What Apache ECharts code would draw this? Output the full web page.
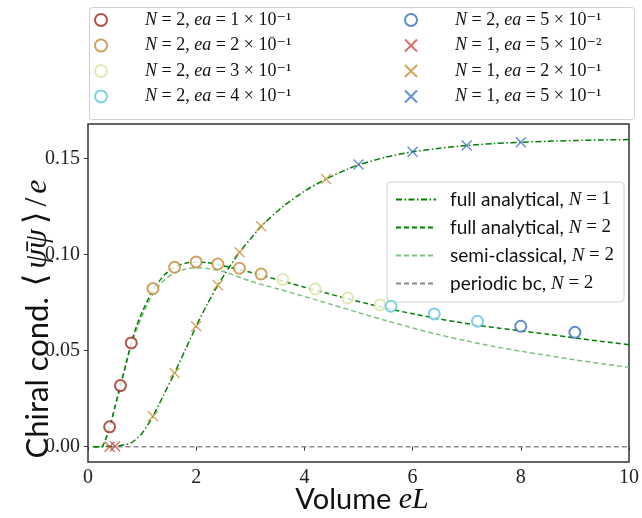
<!DOCTYPE html>
<html>
<head>
<meta charset="utf-8">
<script src="https://cdn.jsdelivr.net/npm/echarts@6.0.0/dist/echarts.min.js"></script>
<style>html,body{margin:0;padding:0;background:#fff}#c{width:642px;height:518px}</style>
</head>
<body>
<div id="c"></div>
<script>
// ---- axis ticks ----
const xTicks = [0, 2, 4, 6, 8, 10];
const yTicks = [0, 0.05, 0.10, 0.15];

// ---- full analytical N=1 ----
const fa1X = [0.1,0.3,0.5,0.6,0.8,1.0,1.2,1.4,1.6,1.8,2.0,2.2,2.4,2.6,2.8,3.0,3.2,3.6,4.0,4.4,4.8,5.0,5.5,6.0,6.5,7.0,7.5,8.0,8.5,9.0,9.5,10];
const fa1Y = [0,0,0.0002,0.0006,0.002,0.007,0.0158,0.027,0.0384,0.0505,0.0627,0.074,0.084,0.093,0.1012,0.108,0.1147,0.1250,0.1330,0.1394,0.1445,0.1467,0.1507,0.1535,0.1554,0.1568,0.1578,0.1585,0.1590,0.1594,0.1597,0.1599];
// ---- full analytical N=2 ----
const fa2X = [0.1,0.25,0.3,0.4,0.5,0.6,0.7,0.8,0.9,1.0,1.2,1.4,1.6,1.8,2.0,2.2,2.4,2.6,2.8,3.0,3.2,3.6,4.0,4.4,4.8,5.2,5.6,6.0,6.4,6.8,7.2,7.6,8.0,8.5,9.0,9.5,10];
const fa2Y = [0,0,0.002,0.010,0.021,0.032,0.043,0.054,0.063,0.070,0.0815,0.089,0.0935,0.0955,0.0962,0.0958,0.0948,0.0935,0.0922,0.0908,0.0893,0.0862,0.0830,0.0800,0.0770,0.0742,0.0715,0.0692,0.0670,0.0650,0.0632,0.0617,0.0603,0.0585,0.0566,0.0548,0.0531];
// ---- semi-classical N=2 ----
const scX = [0.1,0.25,0.3,0.4,0.5,0.6,0.8,1.0,1.2,1.4,1.6,1.8,2.0,2.2,2.5,3.0,3.5,4.0,4.5,5.0,5.5,6.0,6.5,7.0,7.5,8.0,8.5,9.0,9.5,10];
const scY = [0,0,0.002,0.0095,0.0205,0.031,0.053,0.068,0.0795,0.0865,0.0905,0.0925,0.0932,0.0928,0.0912,0.0862,0.0822,0.0782,0.0740,0.0698,0.0657,0.0618,0.0582,0.0550,0.0522,0.0497,0.0474,0.0452,0.0432,0.0413];
// ---- periodic bc N=2 ----
const pbcX = [0.4, 10];
const pbcY = [0, 0];

// ---- markers ----
const c1X = [0.4, 0.6, 0.8];             const c1Y = [0.0103, 0.0318, 0.054];
const c2X = [1.2, 1.6, 2.0, 2.4, 2.8, 3.2]; const c2Y = [0.0823, 0.0934, 0.0962, 0.0951, 0.0929, 0.0899];
const c3X = [3.6, 4.2, 4.8, 5.4];        const c3Y = [0.0870, 0.0821, 0.0774, 0.0738];
const c4X = [5.6, 6.4, 7.2];             const c4Y = [0.0731, 0.0691, 0.0653];
const c5X = [8, 9];                      const c5Y = [0.0627, 0.0595];
const x1X = [0.4, 0.5];                  const x1Y = [0, 0.0002];
const x2X = [1.2, 1.6, 2.0, 2.4, 2.8, 3.2, 4.4]; const x2Y = [0.0158, 0.0384, 0.0627, 0.084, 0.1012, 0.1147, 0.1394];
const x3X = [5, 6, 7, 8];                const x3Y = [0.1469, 0.1535, 0.1568, 0.1585];

// ---- legend labels ----
const markerNames = ['c1','c2','c3','c4','c5','x1','x2','x3'];
const markerN   = ['2','2','2','2','2','1','1','1'];
const markerEa  = ['1 × 10⁻¹','2 × 10⁻¹','3 × 10⁻¹','4 × 10⁻¹','5 × 10⁻¹','5 × 10⁻²','2 × 10⁻¹','5 × 10⁻¹'];
const lineNames = ['fa1','fa2','sc','pbc'];
const lineText  = ['full analytical, ','full analytical, ','semi-classical, ','periodic bc, '];
const lineN     = ['1','2','2','2'];

const zip = (a, b) => a.map((v, i) => [v, b[i]]);
const SERIF = '"Liberation Serif", "DejaVu Serif", serif';
const SANS = 'Lato, "Open Sans", sans-serif';
const XPATH = 'path://M0,0L10,10M0,10L10,0';

const markerColors = ['#a3291e','#c38b3c','#d9e4a6','#62c6e0','#3b6fc0','#d04a4a','#c99040','#3a74c4'];
const markerData = [[c1X,c1Y],[c2X,c2Y],[c3X,c3Y],[c4X,c4Y],[c5X,c5Y],[x1X,x1Y],[x2X,x2Y],[x3X,x3Y]];

const series = [];
const lineStyles = [
  {color:'#008000', width:1.5, type:[6,2.5,1.5,2.5]},
  {color:'#008000', width:1.5, type:[5,3]},
  {color:'#80c080', width:1.5, type:[5,3]},
  {color:'#8c8c8c', width:1.5, type:[5,3]}
];
const lineData = [[fa1X,fa1Y],[fa2X,fa2Y],[scX,scY],[pbcX,pbcY]];
const lineZ = [4,4,3,2];
lineNames.forEach((n, i) => {
  series.push({
    name: n, type: 'line', symbol: 'none', smooth: 0.25,
    data: zip(lineData[i][0], lineData[i][1]),
    lineStyle: lineStyles[i], itemStyle: {color: lineStyles[i].color},
    z: lineZ[i], silent: true, animation: false
  });
});
markerNames.forEach((n, i) => {
  const isX = n[0] === 'x';
  series.push({
    name: n, type: 'scatter',
    symbol: isX ? XPATH : 'emptyCircle',
    symbolSize: isX ? 10 : 11,
    data: zip(markerData[i][0], markerData[i][1]),
    itemStyle: {color: markerColors[i], borderColor: markerColors[i], borderWidth: isX ? 1.4 : 1},
    z: 6, silent: true, animation: false
  });
});

const mRich = {
  i: {fontFamily: SERIF, fontStyle: 'italic', fontSize: 18, lineHeight: 20, color: '#111'},
  n: {fontFamily: SERIF, fontSize: 18, lineHeight: 20, color: '#111'},
  p: {fontSize: 18, lineHeight: 20, width: 33}
};
const markerFmt = name => {
  const k = markerNames.indexOf(name);
  return '{p|}{i|N}{n| = ' + markerN[k] + ', }{i|ea}{n| = ' + markerEa[k] + '}';
};
const lRich = {
  t: {fontFamily: SANS, fontSize: 19, lineHeight: 20, color: '#111'},
  i: {fontFamily: SERIF, fontStyle: 'italic', fontSize: 19, lineHeight: 20, color: '#111'},
  n: {fontFamily: SERIF, fontSize: 19, lineHeight: 20, color: '#111'},
  p: {fontSize: 19, lineHeight: 20, width: 9}
};
const lineFmt = name => {
  const k = lineNames.indexOf(name);
  return '{p|}{t|' + lineText[k] + '}{i|N}{n| = ' + lineN[k] + '}';
};

const chart = echarts.init(document.getElementById('c'), null, {renderer: 'canvas'});
chart.setOption({
  animation: false,
  backgroundColor: '#fff',
  grid: {left: 88, right: 9, top: 124, bottom: 56, show: true, borderColor: '#333', borderWidth: 1.5, backgroundColor: 'transparent'},
  xAxis: {
    type: 'value', min: 0, max: 10, interval: 2,
    axisLine: {show: false},
    axisTick: {show: true, inside: false, length: 4, lineStyle: {color: '#333', width: 1}},
    axisLabel: {color: '#222', fontFamily: SERIF, fontSize: 20, margin: 6, formatter: v => String(v)},
    splitLine: {show: false}
  },
  yAxis: {
    type: 'value', min: -0.008, max: 0.168,
    axisLine: {show: false},
    axisTick: {show: true, inside: false, length: 4, customValues: yTicks, lineStyle: {color: '#333', width: 1}},
    axisLabel: {color: '#222', fontFamily: SERIF, fontSize: 20, margin: 8, customValues: yTicks, formatter: v => v.toFixed(2)},
    splitLine: {show: false}
  },
  legend: [
    {
      data: markerNames.slice(0, 4), orient: 'vertical', left: 94, top: 11,
      itemWidth: 12, itemHeight: 12, itemGap: 7.5, padding: 0,
      formatter: markerFmt, textStyle: {rich: mRich}, selectedMode: false
    },
    {
      data: markerNames.slice(4), orient: 'vertical', left: 404, top: 11,
      itemWidth: 12, itemHeight: 12, itemGap: 7.5, padding: 0,
      formatter: markerFmt, textStyle: {rich: mRich}, selectedMode: false
    },
    {
      data: lineNames, orient: 'vertical', left: 387, top: 182,
      itemWidth: 40, itemHeight: 12, itemGap: 9, padding: [8, 10, 9, 8],
      itemStyle: {opacity: 0},
      backgroundColor: 'rgba(255,255,255,0.85)', borderColor: '#d0d0d0', borderWidth: 1, borderRadius: 4,
      formatter: lineFmt, textStyle: {rich: lRich}, selectedMode: false
    }
  ],
  graphic: [
    {type: 'rect', left: 87, top: 5, shape: {width: 545, height: 112, r: 3}, style: {fill: 'none', stroke: '#d0d0d0', lineWidth: 1}, z: 1},
    {type: 'text', x: 362, y: 500, style: {
      text: '{a|Volume }{b|eL}', align: 'center', verticalAlign: 'middle',
      rich: {a: {fontFamily: SANS, fontSize: 29, fill: '#111'}, b: {fontFamily: SERIF, fontStyle: 'italic', fontSize: 30, fill: '#111'}}
    }},
    {type: 'text', x: 38, y: 318, rotation: Math.PI / 2, style: {
      text: '{a|Chiral cond. }{k|⟨}{b|ψ̄ψ}{k|⟩}{s|/}{b|e}', align: 'center', verticalAlign: 'middle',
      rich: {
        a: {fontFamily: SANS, fontSize: 31, fill: '#111'},
        b: {fontFamily: SERIF, fontStyle: 'italic', fontSize: 32, fill: '#111', padding: [0, 2]},
        k: {fontFamily: SERIF, fontSize: 32, fill: '#111', padding: [0, 3]},
        s: {fontFamily: SERIF, fontSize: 32, fill: '#111', padding: [0, 2]}
      }
    }}
  ],
  series: series
});
</script>
</body>
</html>
